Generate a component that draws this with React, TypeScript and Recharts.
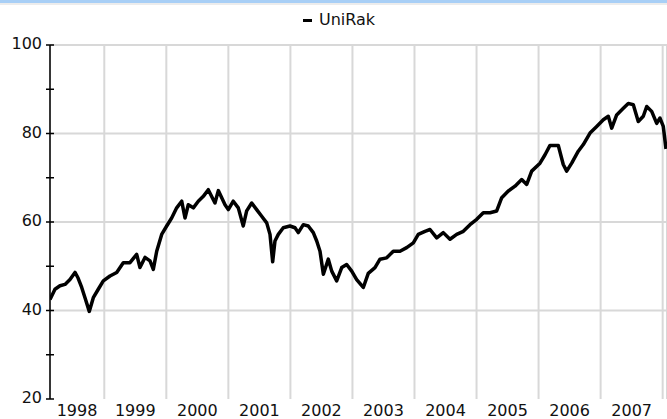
import {
  LineChart,
  Line,
  XAxis,
  YAxis,
  CartesianGrid,
  ReferenceLine,
} from "recharts";

const SERIES_NAME = "UniRak";

// decimal year -> value
const years = [
  1998.125, 1998.205, 1998.286, 1998.367, 1998.447, 1998.528, 1998.576, 1998.636,
  1998.689, 1998.758, 1998.823, 1998.903, 1998.984, 1999.092, 1999.2, 1999.306,
  1999.414, 1999.522, 1999.575, 1999.656, 1999.737, 1999.79, 1999.845, 1999.925,
  2000.006, 2000.086, 2000.167, 2000.248, 2000.301, 2000.354, 2000.435, 2000.515,
  2000.596, 2000.676, 2000.784, 2000.838, 2000.946, 2000.999, 2001.079, 2001.16,
  2001.24, 2001.295, 2001.376, 2001.456, 2001.537, 2001.618, 2001.671, 2001.714,
  2001.751, 2001.805, 2001.885, 2001.993, 2002.074, 2002.127, 2002.208, 2002.288,
  2002.369, 2002.424, 2002.477, 2002.531, 2002.611, 2002.666, 2002.746, 2002.827,
  2002.907, 2002.988, 2003.068, 2003.175, 2003.255, 2003.363, 2003.444, 2003.552,
  2003.658, 2003.766, 2003.874, 2003.981, 2004.061, 2004.169, 2004.25, 2004.358,
  2004.464, 2004.572, 2004.68, 2004.787, 2004.895, 2005.003, 2005.109, 2005.217,
  2005.325, 2005.406, 2005.512, 2005.62, 2005.728, 2005.809, 2005.889, 2006.023,
  2006.104, 2006.184, 2006.318, 2006.398, 2006.453, 2006.534, 2006.64, 2006.721,
  2006.829, 2006.937, 2007.043, 2007.124, 2007.179, 2007.259, 2007.366, 2007.446,
  2007.527, 2007.607, 2007.688, 2007.743, 2007.823, 2007.904, 2007.957, 2008.01,
  2008.054,
];

const values = [
  42.5, 44.8, 45.6, 45.9, 47.0, 48.6, 47.4, 45.2,
  42.9, 39.8, 42.9, 44.8, 46.7, 47.8, 48.6, 50.8,
  50.8, 52.7, 49.7, 52.0, 51.2, 49.3, 53.4, 57.2,
  59.1, 60.9, 63.2, 64.7, 60.9, 63.9, 63.2, 64.7,
  65.8, 67.3, 64.3, 67.1, 63.9, 62.8, 64.7, 63.2,
  59.1, 62.5, 64.3, 62.8, 61.3, 59.8, 57.2, 51.0,
  55.7, 57.2, 58.7, 59.1, 58.7, 57.6, 59.4, 59.1,
  57.6, 55.7, 53.4, 48.2, 51.6, 48.9, 46.7, 49.7,
  50.4, 48.9, 47.0, 45.2, 48.4, 49.7, 51.6, 51.9,
  53.4, 53.4, 54.2, 55.3, 57.2, 57.9, 58.3, 56.4,
  57.6, 56.1, 57.2, 57.9, 59.4, 60.6, 62.1, 62.1,
  62.5, 65.5, 67.0, 68.1, 69.6, 68.5, 71.5, 73.3,
  75.2, 77.3, 77.3, 73.0, 71.5, 73.3, 76.0, 77.5,
  80.1, 81.6, 83.1, 83.9, 81.2, 84.2, 85.7, 86.8,
  86.5, 82.7, 83.9, 86.1, 85.0, 82.3, 83.5, 81.6,
  76.5,
];

const yearTicks = [1999, 2000, 2001, 2002, 2003, 2004, 2005, 2006, 2007, 2008];
const labelTicks = [1998.56, 1999.5, 2000.5, 2001.5, 2002.5, 2003.5, 2004.5, 2005.5, 2006.5, 2007.5];
const yTicks = [20, 30, 40, 50, 60, 70, 80, 90, 100];
const yGrid = [40, 60, 80, 100];

const X_DOMAIN: [number, number] = [1998.125, 2008.07];
const FONT = "'DejaVu Sans', sans-serif";

const data = years.map((t, i) => ({ t, v: values[i] }));

const YearMark = ({ x, y }: any) => (
  <line x1={x} x2={x} y1={y - 3} y2={y + 3} stroke="#000" strokeWidth={1.5} />
);

const YearLabel = ({ x, y, payload }: any) => (
  <text x={x} y={y + 17} textAnchor="middle" fontSize={16} fontFamily={FONT} fill="#111">
    {Math.floor(payload.value)}
  </text>
);

const YTick = ({ x, y, payload }: any) => (
  <g>
    <line x1={x - 4} x2={x + 4} y1={y} y2={y} stroke="#000" strokeWidth={1.5} />
    {payload.value % 20 === 0 && (
      <text x={x - 8} y={y + 4} textAnchor="end" fontSize={16} fontFamily={FONT} fill="#111">
        {payload.value}
      </text>
    )}
  </g>
);

export default function App() {
  return (
    <div style={{ position: "absolute", left: 0, top: 0, width: 667, height: 419, background: "#fff", overflow: "hidden" }}>
      <div style={{ position: "absolute", left: 0, top: 0, width: 667, height: 3, background: "#a8cff6" }} />
      <div style={{ position: "absolute", left: 0, top: 3, width: 667, height: 2, background: "#ececec" }} />
      <div style={{ position: "absolute", left: 303, top: 19, width: 9, height: 3, background: "#000" }} />
      <div
        style={{
          position: "absolute",
          top: 12,
          left: 319,
          lineHeight: "16px",
          fontFamily: FONT,
          fontSize: 16,
          color: "#111",
          whiteSpace: "nowrap",
        }}
      >
        {SERIES_NAME}
      </div>
      <LineChart width={667} height={419} data={data} margin={{ top: 45, right: 0, bottom: 0, left: 0 }}>
        <CartesianGrid xAxisId="yr" horizontal={false} stroke="#d8d8d8" strokeWidth={2} />
        {yGrid.map((g) => (
          <ReferenceLine key={g} xAxisId="yr" y={g} stroke="#d8d8d8" strokeWidth={2} />
        ))}
        <XAxis
          xAxisId="yr"
          dataKey="t"
          type="number"
          domain={X_DOMAIN}
          allowDataOverflow
          ticks={yearTicks}
          height={0}
          tickSize={0}
          tickMargin={0}
          tick={<YearMark />}
          axisLine={{ stroke: "#000", strokeWidth: 1.5 }}
        />
        <XAxis
          xAxisId="lab"
          dataKey="t"
          type="number"
          domain={X_DOMAIN}
          allowDataOverflow
          ticks={labelTicks}
          height={20}
          tickSize={0}
          tickMargin={0}
          tick={<YearLabel />}
          axisLine={false}
          tickLine={false}
        />
        <YAxis
          domain={[20, 100]}
          ticks={yTicks}
          width={50}
          tickSize={0}
          tickMargin={0}
          tick={<YTick />}
          tickLine={false}
          axisLine={{ stroke: "#000", strokeWidth: 1.5 }}
        />
        <Line
          xAxisId="yr"
          type="linear"
          dataKey="v"
          stroke="#000"
          strokeWidth={3.5}
          strokeLinejoin="round"
          dot={false}
          isAnimationActive={false}
        />
      </LineChart>
    </div>
  );
}
